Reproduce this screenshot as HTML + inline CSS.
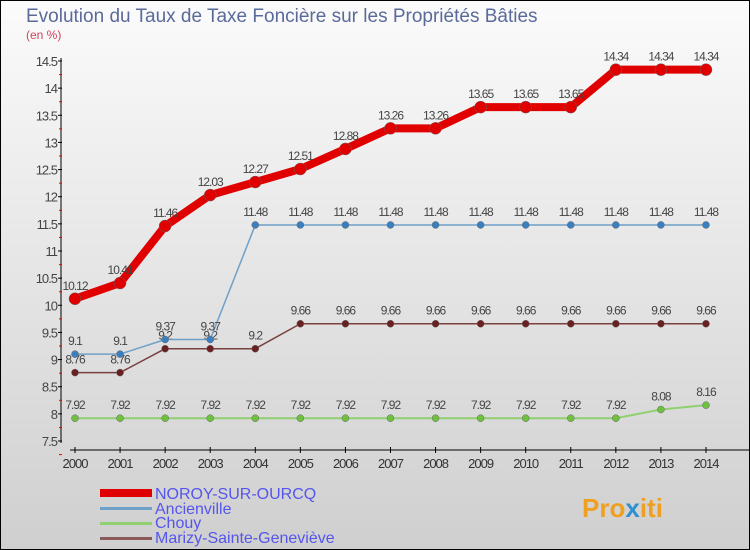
<!DOCTYPE html>
<html><head><meta charset="utf-8"><style>
body{margin:0}
svg{display:block;font-family:"Liberation Sans",sans-serif}
</style></head><body>
<svg width="750" height="550">
<defs><linearGradient id="bg" x1="0" y1="0" x2="0" y2="1"><stop offset="0" stop-color="#fbfbfb"/><stop offset="1" stop-color="#cfcfcf"/></linearGradient></defs>
<rect x="0.5" y="0.5" width="749" height="549" fill="url(#bg)" stroke="#000"/>
<text x="26" y="22" font-size="19" fill="#5a6a9a">Evolution du Taux de Taxe Foncière sur les Propriétés Bâties</text>
<text x="26" y="39" font-size="12" fill="#d04060">(en %)</text>
<g id="axes"></g>
<g id="series"></g>
<g>
<rect x="100" y="489" width:="" width="52" height="8" fill="#e00000"/>
<text x="155" y="499" font-size="16" fill="#5555ee">NOROY-SUR-OURCQ</text>
<rect x="100" y="507" width="52" height="3" fill="#6fa0c8"/>
<text x="155" y="514" font-size="16" fill="#5555ee">Ancienville</text>
<rect x="100" y="522" width="52" height="3" fill="#90d070"/>
<text x="155" y="528" font-size="16" fill="#5555ee">Chouy</text>
<rect x="100" y="537" width="52" height="3" fill="#8a5a5a"/>
<text x="155" y="543" font-size="16" fill="#5555ee">Marizy-Sainte-Geneviève</text>
</g>
<text x="582" y="517" font-size="26" font-weight="bold" fill="#f0a020">Pro<tspan fill="#3090d0">x</tspan>iti</text>
</svg>
<script>
const years=[2000,2001,2002,2003,2004,2005,2006,2007,2008,2009,2010,2011,2012,2013,2014];
const noroy=[10.12,10.41,11.46,12.03,12.27,12.51,12.88,13.26,13.26,13.65,13.65,13.65,14.34,14.34,14.34];
const ancienville=[9.1,9.1,9.37,9.37,11.48,11.48,11.48,11.48,11.48,11.48,11.48,11.48,11.48,11.48,11.48];
const chouy=[7.92,7.92,7.92,7.92,7.92,7.92,7.92,7.92,7.92,7.92,7.92,7.92,7.92,8.08,8.16];
const marizy=[8.76,8.76,9.2,9.2,9.2,9.66,9.66,9.66,9.66,9.66,9.66,9.66,9.66,9.66,9.66];
const yTicks=[7.5,8,8.5,9,9.5,10,10.5,11,11.5,12,12.5,13,13.5,14,14.5];
const NS="http://www.w3.org/2000/svg";
const X=i=>75+i*45.07;
const Y=v=>441-(v-7.5)*(380/7);
function mk(t,a,p){const e=document.createElementNS(NS,t);for(const k in a)e.setAttribute(k,a[k]);p.appendChild(e);return e;}
const ax=document.getElementById('axes');
const yl=mk('line',{x1:61,y1:58,x2:61,y2:443,stroke:'#000'},ax);


yTicks.forEach(v=>{
 mk('line',{x1:58,x2:62,y1:Y(v),y2:Y(v),stroke:'#000'},ax);
 mk('line',{x1:59,x2:62,y1:Y(v)+13.6,y2:Y(v)+13.6,stroke:'#e00'},ax);
 const t=mk('text',{x:57,y:Y(v)+5,'font-size':13,'text-anchor':'end',fill:'#444','letter-spacing':'-1'},ax);
 t.textContent=v;
 
 
});
const xl=mk('line',{x1:70,y1:450,x2:750,y2:450,stroke:'#000'},ax);


years.forEach((y,i)=>{
 mk('line',{x1:X(i),x2:X(i),y1:447,y2:453,stroke:'#000'},ax);
 const t=mk('text',{x:X(i),y:468,'font-size':13,'text-anchor':'middle',fill:'#333','letter-spacing':'-1'},ax);
 t.textContent=y;
 
 
});
const sg=document.getElementById('series');
function series(data,color,w,r,dot,name){
 const g=mk('g',{},sg);
 
 
 const pl=mk('polyline',{points:data.map((v,i)=>X(i)+','+Y(v)).join(' '),fill:'none',stroke:color,'stroke-width':w,'stroke-linejoin':'round'},g);
 
 
 data.forEach((v,i)=>{
  const c=mk('circle',{cx:X(i),cy:Y(v),r:r,fill:dot,stroke:'#666','stroke-width':0.5},g);
  
  
  const t=mk('text',{x:X(i),y:Y(v)-9,'font-size':12,'text-anchor':'middle',fill:'#444','letter-spacing':'-1'},g);
  t.textContent=v;
  
  
 });
}
series(chouy,'#90d070',2,3.5,'#70c040','chouy');
series(marizy,'#7a4040',1.5,3.5,'#6a2020','marizy');
series(ancienville,'#6fa0c8',1.5,3.5,'#3a80c0','ancienville');
series(noroy,'#e00000',8,6,'#e00000','noroy');
</script>
</body></html>
